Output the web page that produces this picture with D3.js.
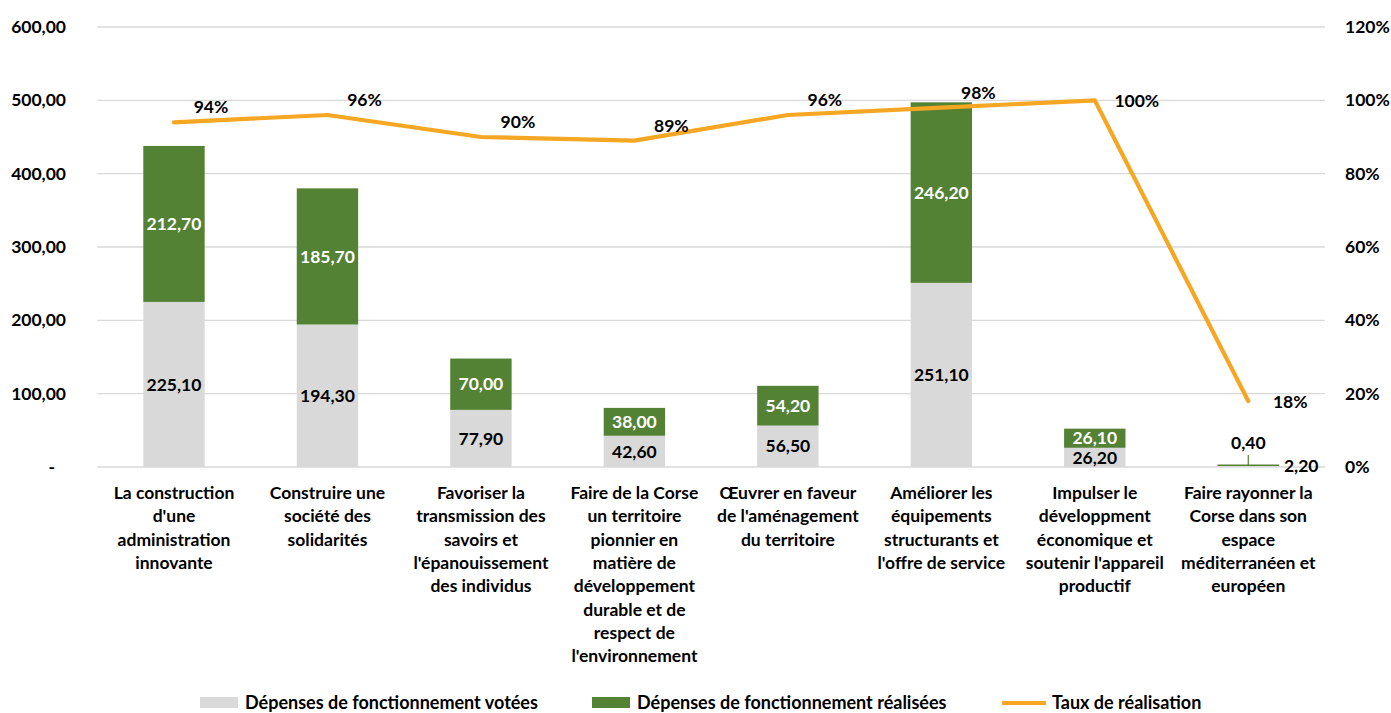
<!DOCTYPE html>
<html lang="fr">
<head>
<meta charset="utf-8">
<script src="https://cdn.jsdelivr.net/npm/d3@7"></script>
<style>
  html, body { margin: 0; padding: 0; background: #fff; }
  svg { display: block; font-family: Lato, "Open Sans", sans-serif; font-weight: 700; }
</style>
</head>
<body>
<svg id="chart" width="1391" height="713"></svg>
<script>
// Categories (axis labels, pre-wrapped)
const categories = [
  ["La construction", "d'une", "administration", "innovante"],
  ["Construire une", "société des", "solidarités"],
  ["Favoriser la", "transmission des", "savoirs et", "l'épanouissement", "des individus"],
  ["Faire de la Corse", "un territoire", "pionnier en", "matière de", "développement", "durable et de", "respect de", "l'environnement"],
  ["Œuvrer en faveur", "de l'aménagement", "du territoire"],
  ["Améliorer les", "équipements", "structurants et", "l'offre de service"],
  ["Impulser le", "développment", "économique et", "soutenir l'appareil", "productif"],
  ["Faire rayonner la", "Corse dans son", "espace", "méditerranéen et", "européen"]
];
const votees    = [225.10, 194.30, 77.90, 42.60, 56.50, 251.10, 26.20, 2.20];
const realisees = [212.70, 185.70, 70.00, 38.00, 54.20, 246.20, 26.10, 0.40];
const taux      = [0.94, 0.96, 0.90, 0.89, 0.96, 0.98, 1.00, 0.18];
const leftTicks  = [0, 100, 200, 300, 400, 500, 600];
const rightTicks = [0, 0.2, 0.4, 0.6, 0.8, 1.0, 1.2];
const legendLabels = ["Dépenses de fonctionnement votées", "Dépenses de fonctionnement réalisées", "Taux de réalisation"];

const colGray = "#D9D9D9", colGreen = "#548235", colOrange = "#F5A623", colGrid = "#D9D9D9";
const fs = 17.5;

const fr = d3.formatLocale({ decimal: ",", thousands: " ", grouping: [3], currency: ["", " €"] });
const fmt2 = fr.format(".2f");
const fmtPct = d3.format(".0%");

const svg = d3.select("#chart");
const plotL = 97.25, plotR = 1325, plotT = 27, plotB = 467;

const x = d3.scaleBand().domain(d3.range(categories.length)).range([plotL, plotR]).paddingInner(0.6).paddingOuter(0.3);
const y = d3.scaleLinear().domain([0, 600]).range([plotB, plotT]);
const y2 = d3.scaleLinear().domain([0, 1.2]).range([plotB, plotT]);
const cx = i => x(i) + x.bandwidth() / 2;

// Gridlines
svg.append("g")
  .selectAll("line").data(leftTicks).join("line")
  .attr("x1", plotL).attr("x2", plotR)
  .attr("y1", d => y(d)).attr("y2", d => y(d))
  .attr("stroke", colGrid).attr("stroke-width", 1.3);

// Left axis labels
const leftAxis = d3.axisLeft(y).tickValues(leftTicks).tickSize(0).tickPadding(0)
  .tickFormat(d => d === 0 ? "-" : fmt2(d));
svg.append("g").attr("transform", "translate(66,0)").call(leftAxis)
  .call(g => g.select(".domain").remove())
  .call(g => g.selectAll("text").attr("font-size", fs).attr("font-family", "Lato, sans-serif")
    .attr("font-weight", 700).attr("fill", "#000")
    .attr("dx", d => d === 0 ? -11 : 0));

// Right axis labels
const rightAxis = d3.axisRight(y2).tickValues(rightTicks).tickSize(0).tickPadding(0)
  .tickFormat(fmtPct);
svg.append("g").attr("transform", "translate(1345,0)").call(rightAxis)
  .call(g => g.select(".domain").remove())
  .call(g => g.selectAll("text").attr("font-size", fs).attr("font-family", "Lato, sans-serif")
    .attr("font-weight", 700).attr("fill", "#000"));

// Stacked bars
const rows = categories.map((c, i) => ({ i, v: votees[i], r: realisees[i] }));
const stack = d3.stack().keys(["v", "r"])(rows);
const colors = { v: colGray, r: colGreen };
svg.append("g").selectAll("g").data(stack).join("g")
  .attr("fill", s => colors[s.key])
  .selectAll("rect").data(s => s).join("rect")
  .attr("x", d => x(d.data.i)).attr("width", x.bandwidth())
  .attr("y", d => y(d[1])).attr("height", d => Math.max(y(d[0]) - y(d[1]), 0));

// Last category: thin green trace visible at the baseline
const last = categories.length - 1;
svg.append("line")
  .attr("x1", x(last)).attr("x2", x(last) + x.bandwidth())
  .attr("y1", y(votees[last] + realisees[last] / 2)).attr("y2", y(votees[last] + realisees[last] / 2))
  .attr("stroke", colGreen).attr("stroke-width", 1.5);

// Bar value labels
const labels = svg.append("g").attr("font-size", fs).attr("text-anchor", "middle");
rows.forEach((d, i) => {
  if (i === last) return;
  labels.append("text").attr("x", cx(i)).attr("y", y(d.v / 2)).attr("dy", "0.35em")
    .attr("fill", "#000").text(fmt2(d.v));
  labels.append("text").attr("x", cx(i)).attr("y", y(d.v + d.r / 2)).attr("dy", "0.35em")
    .attr("fill", "#fff").text(fmt2(d.r));
});
// Small values of the last category with a leader line
const lastTop = y(votees[last] + realisees[last]);
svg.append("line").attr("x1", cx(last)).attr("x2", cx(last))
  .attr("y1", lastTop).attr("y2", lastTop - 10).attr("stroke", colGreen).attr("stroke-width", 1.2);
labels.append("text").attr("x", cx(last)).attr("y", lastTop - 16).attr("fill", "#000").text(fmt2(realisees[last]));
labels.append("text").attr("x", x(last) + x.bandwidth() + 5).attr("y", y(votees[last] / 2)).attr("dy", "0.35em")
  .attr("text-anchor", "start").attr("fill", "#000").text(fmt2(votees[last]));

// Rate line
const line = d3.line().x((d, i) => cx(i)).y(d => y2(d));
svg.append("path").datum(taux).attr("d", line)
  .attr("fill", "none").attr("stroke", colOrange).attr("stroke-width", 4.2)
  .attr("stroke-linejoin", "miter").attr("stroke-linecap", "round");

// Rate labels
svg.append("g").attr("font-size", fs).attr("text-anchor", "middle")
  .selectAll("text").data(taux).join("text")
  .attr("x", (d, i) => cx(i) + (i >= 6 ? 42 : 37))
  .attr("y", (d, i) => y2(d) + (i >= 6 ? 1 : -15))
  .attr("dy", "0.35em").attr("fill", "#000")
  .text(d => fmtPct(d));

// Category axis labels
const cat = svg.append("g").attr("font-size", fs).attr("text-anchor", "middle").attr("fill", "#000");
categories.forEach((lines, i) => {
  const t = cat.append("text").attr("x", cx(i)).attr("y", 499);
  lines.forEach((l, k) => t.append("tspan").attr("x", cx(i)).attr("dy", k === 0 ? 0 : 23.3).text(l));
});

// Legend
const lg = svg.append("g").attr("font-size", 18).attr("fill", "#000");
const legendX = [200, 592, 1002];
lg.append("rect").attr("x", legendX[0]).attr("y", 697).attr("width", 38).attr("height", 11).attr("fill", colGray);
lg.append("rect").attr("x", legendX[1]).attr("y", 697).attr("width", 38).attr("height", 11).attr("fill", colGreen);
lg.append("line").attr("x1", legendX[2]).attr("x2", legendX[2] + 44).attr("y1", 703).attr("y2", 703)
  .attr("stroke", colOrange).attr("stroke-width", 4.2);
lg.selectAll("text").data(legendLabels).join("text")
  .attr("x", (d, i) => legendX[i] + (i === 2 ? 50 : 45)).attr("y", 703).attr("dy", "0.35em")
  .text(d => d);
</script>
</body>
</html>
